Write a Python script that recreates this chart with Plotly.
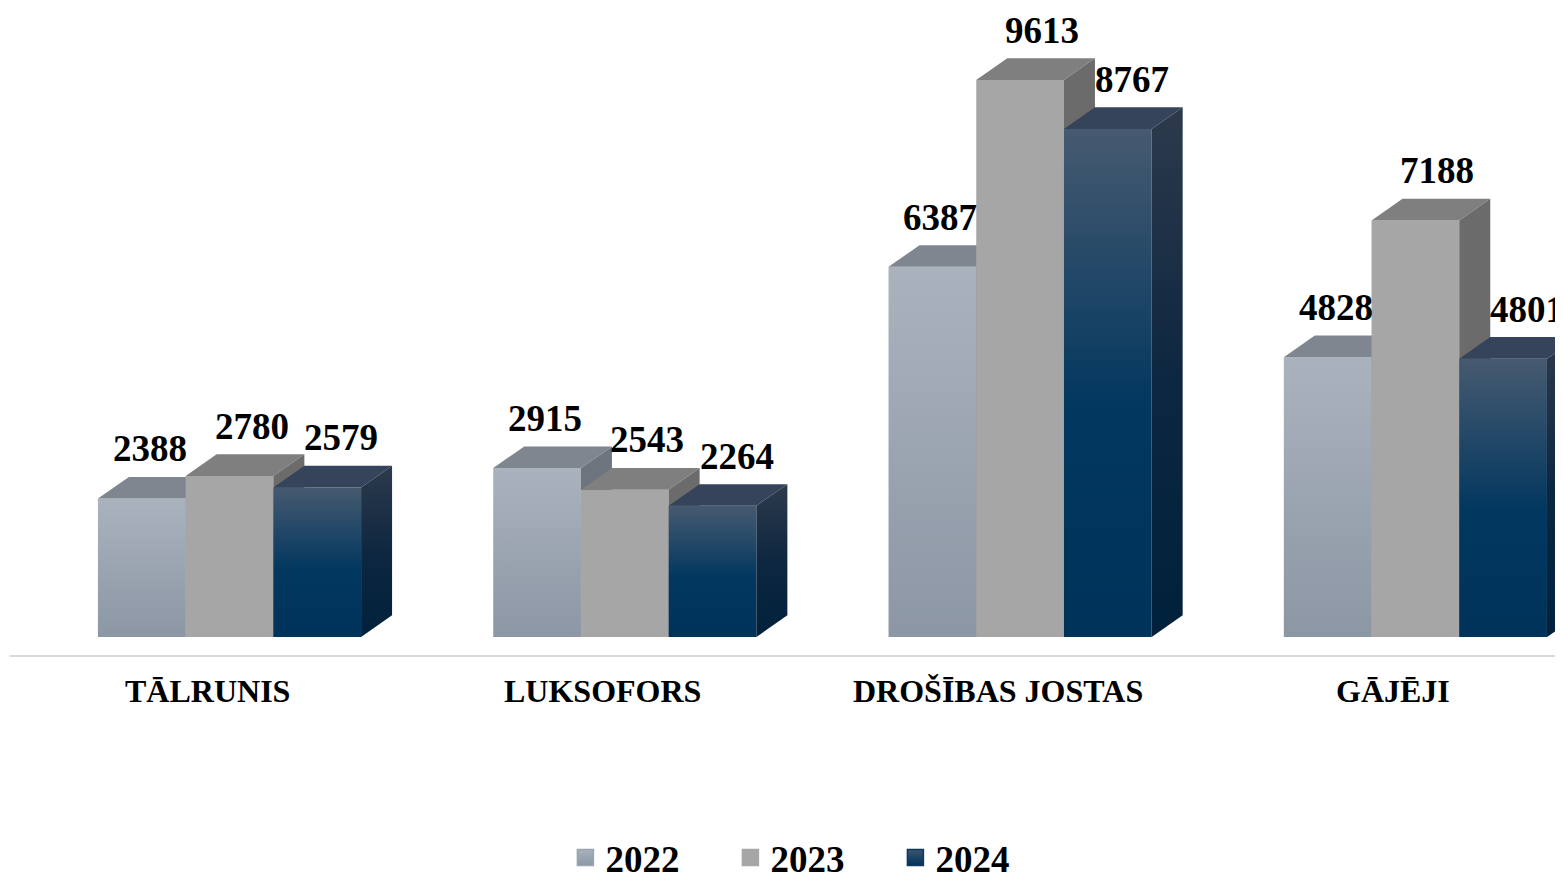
import plotly.graph_objects as go

categories = ['TĀLRUNIS', 'LUKSOFORS', 'DROŠĪBAS JOSTAS', 'GĀJĒJI']
years = ['2022', '2023', '2024']
values_2022 = [2388, 2915, 6387, 4828]
values_2023 = [2780, 2543, 9613, 7188]
values_2024 = [2579, 2264, 8767, 4801]

FONT = 'Liberation Serif, Times New Roman, serif'

# 3D look: bar width and depth offset (x in category units, y in value units)
BAR_W = 0.2219
DX = 0.0784
DY = 374

# face styles per year: front, top, side
styles = {
    '2022': dict(
        front=[[0, '#8c97a5'], [1, '#aab2bd']],
        top='#7f868f',
        side=[[0, '#6a717a'], [1, '#6e757e']],
        legend=('#a9b1bc', '#8c97a5', '#9aa3b0'),
        label_dx=8,
    ),
    '2023': dict(
        front=[[0, '#a6a6a6'], [1, '#a6a6a6']],
        top='#7f7f7f',
        side=[[0, '#6b6b6b'], [1, '#6b6b6b']],
        legend=('#a6a6a6', '#a6a6a6', '#a6a6a6'),
        label_dx=22,
    ),
    '2024': dict(
        front=[[0, '#00335a'], [0.45, '#02375f'], [1, '#465a70']],
        top='#35445a',
        side=[[0, '#00213b'], [0.5, '#0e2740'], [1, '#2d3a4c']],
        legend=('#3b5470', '#00335a', '#0f3a5e'),
        label_dx=24,
    ),
}

series = [values_2022, values_2023, values_2024]

fig = go.Figure()
annotations = []

for i, cat in enumerate(categories):
    for j, year in enumerate(years):
        v = series[j][i]
        st = styles[year]
        left = i - 1.5 * BAR_W + j * BAR_W
        right = left + BAR_W

        # front face
        fig.add_trace(go.Scatter(
            x=[left, right, right, left, left],
            y=[0, 0, v, v, 0],
            mode='lines', fill='toself', line=dict(width=0),
            fillgradient=dict(type='vertical', colorscale=st['front']),
            hoverinfo='skip', showlegend=False,
        ))
        # top face
        fig.add_trace(go.Scatter(
            x=[left, right, right + DX, left + DX, left],
            y=[v, v, v + DY, v + DY, v],
            mode='lines', fill='toself', line=dict(width=0),
            fillcolor=st['top'],
            hoverinfo='skip', showlegend=False,
        ))
        # side face
        fig.add_trace(go.Scatter(
            x=[right, right + DX, right + DX, right, right],
            y=[0, DY, v + DY, v, 0],
            mode='lines', fill='toself', line=dict(width=0),
            fillgradient=dict(type='vertical', colorscale=st['side']),
            hoverinfo='skip', showlegend=False,
        ))

        # value label
        annotations.append(dict(
            x=(left + right) / 2, y=v + DY,
            xref='x', yref='y',
            text=str(v), showarrow=False,
            xshift=st['label_dx'], yshift=28,
            font=dict(family=FONT, size=37, color='black', weight='bold'),
        ))

    # category label
    annotations.append(dict(
        x=i - 0.0556, y=-0.0556, xref='x', yref='paper',
        text=cat, showarrow=False, yanchor='middle',
        font=dict(family=FONT, size=32, color='black', weight='bold'),
    ))

# legend entries
for year in years:
    c1, c2, c3 = styles[year]['legend']
    fig.add_trace(go.Scatter(
        x=[None], y=[None], mode='markers', name=year,
        marker=dict(symbol='square', size=20, color=c1,
                    gradient=dict(type='vertical', color=c2),
                    line=dict(width=1.5, color=c3)),
    ))

fig.update_layout(
    width=1555,
    height=865,
    paper_bgcolor='white',
    plot_bgcolor='white',
    margin=dict(l=2, r=0, t=0, b=218),
    annotations=annotations,
    showlegend=True,
    legend=dict(
        orientation='h',
        x=0.517, xanchor='center',
        yref='container', y=0.0173, yanchor='middle',
        font=dict(family=FONT, size=37, color='black', weight='bold'),
        entrywidth=120,
        itemsizing='trace',
    ),
    xaxis=dict(
        range=[-0.5553, 3.3734],
        showgrid=False, zeroline=False,
        showticklabels=False, ticks='',
        showline=True, linecolor='#d9d9d9', linewidth=2,
    ),
    yaxis=dict(
        range=[-310.6, 10854],
        showgrid=False, zeroline=False,
        showticklabels=False, ticks='',
        showline=False,
    ),
)

fig.write_html('out.html')
